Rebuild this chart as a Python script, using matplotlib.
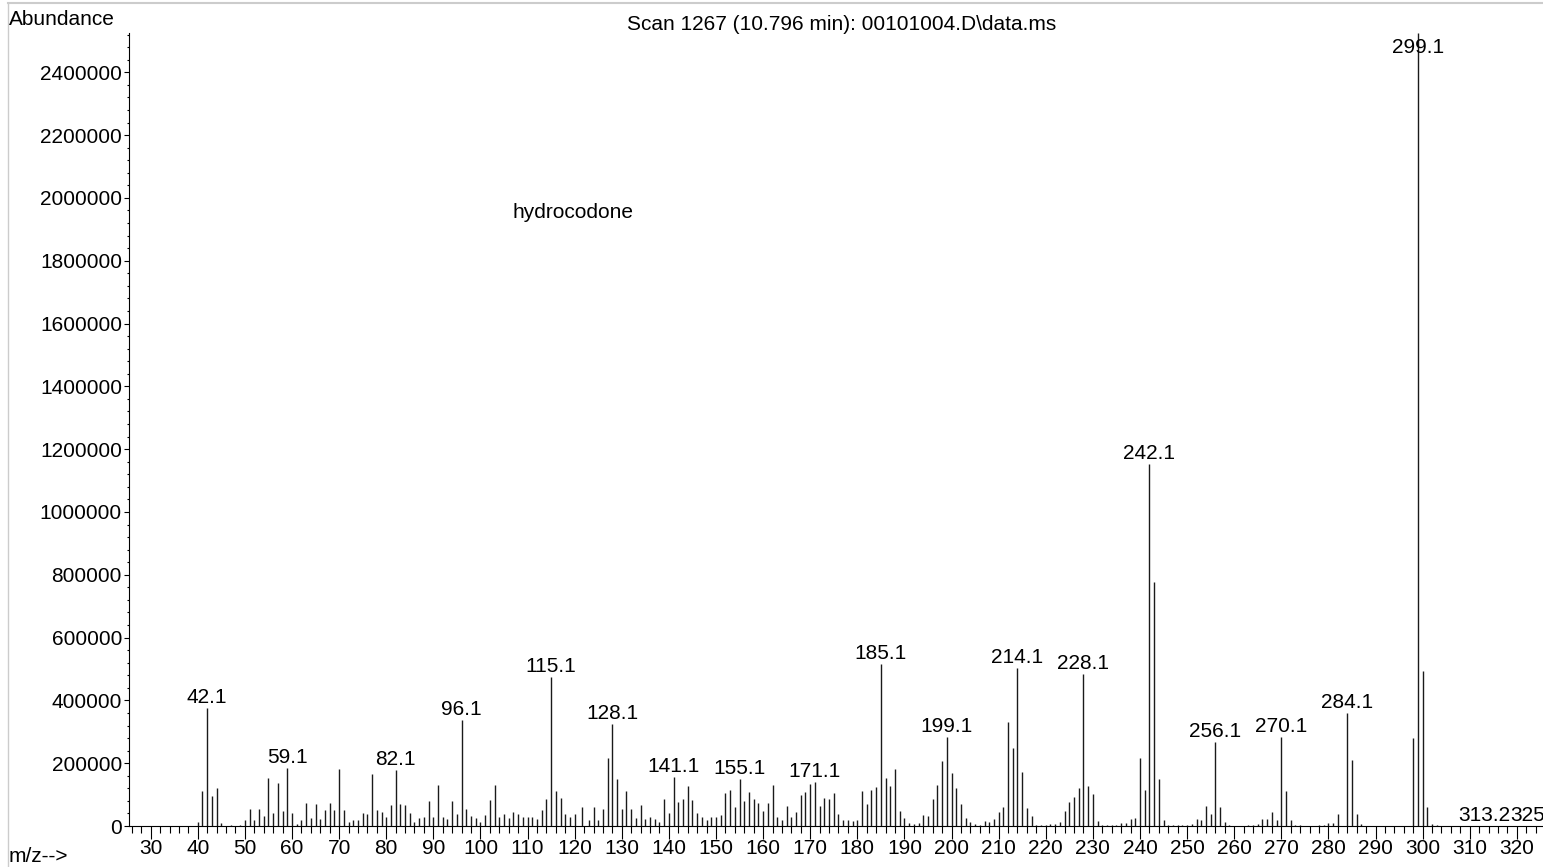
import matplotlib
matplotlib.use('Agg')
import matplotlib.pyplot as plt
from matplotlib.ticker import MultipleLocator
from matplotlib.lines import Line2D

plt.rcParams['font.family'] = ['Liberation Sans', 'DejaVu Sans']
plt.rcParams['font.size'] = 15

# spectrum (m/z, abundance)
mz = [40, 41, 42, 43, 44, 45, 47, 49, 50, 51, 52, 53, 54, 55, 56, 57, 58, 59, 60,
      61, 62, 63, 64, 65, 66, 67, 68, 69, 70, 71, 72, 73, 74, 75, 76, 77, 78, 79, 80,
      81, 82, 83, 84, 85, 86, 87, 88, 89, 90, 91, 92, 93, 94, 95, 96, 97, 98, 99, 100,
      101, 102, 103, 104, 105, 106, 107, 108, 109, 110, 111, 112, 113, 114, 115, 116,
      117, 118, 119, 120, 121.6, 123, 124, 125, 126, 127, 128, 129, 130,
      131, 132, 133, 134, 135, 136, 137, 138, 139, 140, 141, 142, 143, 144, 145, 146,
      147, 148, 149, 150, 151, 152, 153, 154, 155, 156, 157, 158, 159, 160,
      161, 162, 163, 164, 165, 166, 167, 168, 169, 170, 171, 172, 173, 174, 175, 176,
      177, 178, 179, 180, 181, 182, 183, 184, 185, 186, 187, 188, 189, 190,
      191, 192, 193, 194, 195, 196, 197, 198, 199, 200, 201, 202, 203, 204, 205, 206,
      207, 208, 209, 210, 211, 212, 213, 214, 215, 216, 217, 218, 219, 220,
      221, 222, 223, 224, 225, 226, 227, 228, 229, 230, 231, 232, 233, 234, 235, 236,
      237, 238, 239, 240, 241, 242, 243, 244, 245, 246, 247, 248, 249, 250,
      251, 252, 253, 254, 255, 256, 257, 258, 259, 263, 264, 265, 266, 267, 268, 269,
      270, 271, 272, 273, 274, 278, 279, 280, 281, 282, 284, 285, 286, 287,
      298, 299, 300, 301, 302, 303, 313.2, 325]
abundance = [13800, 111000, 375000, 96600, 122000, 9500, 3000, 3000, 19000, 54000,
             19000, 53000, 32000, 153000, 42000, 138000, 48000, 186000, 40000,
             6400, 18000, 73000, 26500, 69000, 22000, 51000, 73000, 51000, 181500,
             51000, 14000, 19000, 18000, 41000, 39000, 166000, 51000, 43500, 30000,
             67000, 178000, 70000, 67000, 40000, 12700, 25500, 30000, 80700, 30000,
             130000, 30000, 23000, 81000, 38000, 337500, 54000, 32000, 25500, 14000,
             34000, 83000, 130000, 28700, 38000, 25500, 44600, 38000, 28700, 28700,
             28700, 23000, 51000, 87000, 475600, 111500,
             90000, 37000, 30000, 39000, 61600, 20000, 59500, 20000, 53000, 216600,
             325000, 150000, 54000,
             112500, 54000, 25500, 68000, 23500, 30000, 23500, 12700, 87000, 42500,
             155000, 75400, 87000, 127400, 82800, 42500,
             28700, 19000, 29700, 28700, 35000, 105000, 115600, 59500, 150800, 78600,
             108300, 87000, 72200, 46700,
             72200, 131600, 28700, 19000, 64800, 29700, 44600, 99800, 109300, 133800,
             140100, 64800, 90200, 87000, 104000, 38200,
             19000, 18000, 16000, 18000, 111500, 70000, 115600, 125200, 516000, 154000,
             128400, 181500, 46700, 25500,
             10600, 6400, 10600, 35000, 32900, 86000, 130600, 206000, 283500, 169900,
             122000, 71000, 24400, 13800, 6400, 4200,
             16000, 12700, 22300, 44600, 61600, 330200, 247400, 502200, 172000, 56300,
             32900, 4200, 3200, 4200,
             6400, 6400, 12700, 48800, 75400, 93400, 120000, 483000, 126300, 103000,
             16000, 3200, 3200, 3200, 3200, 8000,
             8500, 23400, 25500, 216600, 114700, 1153000, 777000, 148600, 18000, 3200,
             2000, 2000, 2000, 2000,
             5300, 22300, 19000, 63700, 39300, 267500, 61600, 13800, 3200, 3200, 4200,
             5300, 23400, 22300, 44600, 19000,
             283500, 111500, 19000, 4200, 3200, 3200, 4200, 9500, 10600, 37200, 359000,
             210000, 39300, 6400,
             279000, 2525000, 494700, 60000, 6400, 2000, 1500, 1500]

peak_labels = ['42.1', '59.1', '82.1', '96.1', '115.1', '128.1', '141.1', '155.1',
               '171.1', '185.1', '199.1', '214.1', '228.1', '242.1', '256.1', '270.1',
               '284.1', '299.1', '313.2', '325.2']
label_mz = [42, 59, 82, 96, 115, 128, 141, 155, 171, 185, 199, 214, 228, 242, 256,
            270, 284, 299, 313.2, 325]
label_x = [42, 59, 82, 96, 115, 128, 141, 155, 171, 185, 199, 214, 228, 242, 256,
           270, 284, 299, 313.0, 324.1]

fig = plt.figure(figsize=(15.43, 8.67), dpi=100)
ax = fig.add_axes([129/1543, 41/867, 1 - 129/1543, 793/867])

ax.vlines(mz, 0, abundance, colors='#1a1a1a', linewidth=1.0)

ymax = 2525000
ax.set_xlim(25.4, 325.55)
ax.set_ylim(0, ymax)

for s in ['top', 'right']:
    ax.spines[s].set_visible(False)
for s in ['left', 'bottom']:
    ax.spines[s].set_linewidth(0.8)

ax.xaxis.set_major_locator(MultipleLocator(10))
ax.xaxis.set_minor_locator(MultipleLocator(2))
ax.yaxis.set_major_locator(MultipleLocator(200000))
ax.yaxis.set_minor_locator(MultipleLocator(40000))
ax.ticklabel_format(axis='y', style='plain', useOffset=False)
ax.tick_params(axis='x', which='major', length=9.4, width=0.8, pad=0)
ax.tick_params(axis='x', which='minor', length=5, width=0.8)
ax.tick_params(axis='y', which='major', length=3.6, width=0.8, pad=1.5)
ax.tick_params(axis='y', which='minor', length=1.6, width=0.8)

heights = dict(zip(mz, abundance))
for txt, m, x in zip(peak_labels, label_mz, label_x):
    h = heights[m]
    if h > ymax * 0.97:
        # top peak: label pushed inside the plot
        ax.annotate(txt, (x, ymax), xytext=(0, -14.4), textcoords='offset points',
                    ha='center', va='baseline')
    else:
        ax.annotate(txt, (x, h), xytext=(0, 3.6), textcoords='offset points',
                    ha='center', va='baseline')

ax.text(106.7, 1936000, 'hydrocodone', va='baseline')

fig.text(842/1543, 1 - 30/867, 'Scan 1267 (10.796 min): 00101004.D\\data.ms',
         ha='center', va='baseline')
fig.text(9/1543, 1 - 25/867, 'Abundance', ha='left', va='baseline')
fig.text(9/1543, 1 - 862/867, 'm/z-->', ha='left', va='baseline')

# light frame at the top and left
fig.add_artist(Line2D([8/1543, 1], [1 - 3/867, 1 - 3/867], color='#cccccc',
                      lw=1.5, transform=fig.transFigure))
fig.add_artist(Line2D([8/1543, 8/1543], [0, 1 - 3/867], color='#cccccc',
                      lw=1.0, transform=fig.transFigure))

fig.savefig('out.png', dpi=100)
